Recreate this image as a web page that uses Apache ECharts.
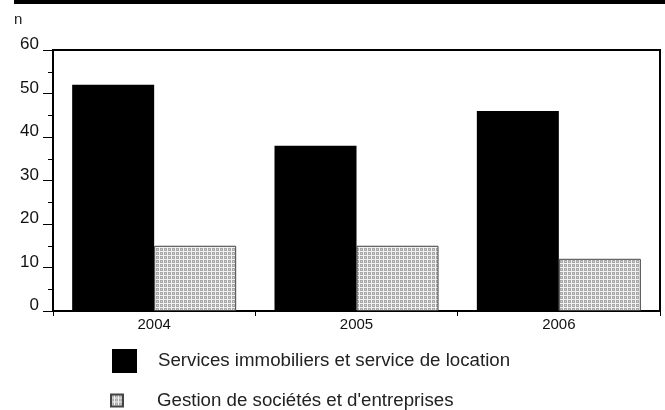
<!DOCTYPE html>
<html><head><meta charset="utf-8">
<script src="https://cdn.jsdelivr.net/npm/echarts@6/dist/echarts.min.js"></script>
<style>html,body{margin:0;padding:0;background:#fff}#c{width:665px;height:410px}</style>
</head><body><div id="c"></div>
<script>
var categories = ['2004', '2005', '2006'];
var seriesNames = ['Services immobiliers et service de location', "Gestion de sociétés et d'entreprises"];
var servicesValues = [52, 38, 46];
var gestionValues = [15, 15, 12];
var yTicks = [0, 10, 20, 30, 40, 50, 60];

var pc = document.createElement('canvas');
pc.width = 4; pc.height = 4;
var g = pc.getContext('2d');
g.fillStyle = '#f2f2f2'; g.fillRect(0, 0, 4, 4);
g.fillStyle = '#a8a8a8'; g.fillRect(0, 0, 3, 3);
g.fillStyle = '#d6d6d6'; g.fillRect(1, 1, 1, 1);
var pattern = { image: pc, repeat: 'repeat' };

var font = 'Liberation Sans, Arial, Helvetica, sans-serif';
var chart = echarts.init(document.getElementById('c'), null, { renderer: 'canvas' });
chart.setOption({
  animation: false,
  backgroundColor: '#fff',
  textStyle: { fontFamily: font },
  graphic: [
    { type: 'rect', shape: { x: 14, y: 0, width: 651, height: 4 }, style: { fill: '#000' } },
    { type: 'text', left: 14, top: 12, style: { text: 'n', font: '15px ' + font, fill: '#222' } }
  ],
  grid: { left: 53, right: 5, top: 50, bottom: 99, show: true, borderColor: '#000', borderWidth: 2, containLabel: false },
  legend: [
    { data: [seriesNames[0]], left: 112, top: 349, padding: 0, orient: 'vertical', icon: 'rect', itemWidth: 25, itemHeight: 24,
      textStyle: { fontSize: 18.7, color: '#222', padding: [0, 0, 0, 16] } },
    { data: [seriesNames[1]], left: 110, top: 391, padding: 0, orient: 'vertical', icon: 'rect', itemWidth: 12, itemHeight: 12,
      textStyle: { fontSize: 18.7, color: '#222', padding: [0, 0, 0, 29] } }
  ],
  xAxis: {
    type: 'category', data: categories, boundaryGap: true,
    axisLine: { lineStyle: { color: '#000', width: 2 } },
    axisTick: { show: true, length: 5, lineStyle: { color: '#000' } },
    axisLabel: { fontSize: 15, color: '#111', margin: 6 }
  },
  yAxis: {
    type: 'value', min: 0, max: 60, interval: 10,
    axisLine: { show: true, lineStyle: { color: '#000', width: 2 } },
    axisTick: { show: true, length: 10, lineStyle: { color: '#000' } },
    minorTick: { show: true, splitNumber: 2, length: 5, lineStyle: { color: '#000' } },
    splitLine: { show: false },
    axisLabel: { fontSize: 17, color: '#111', margin: 14, verticalAlign: 'bottom', padding: [0, 0, -3, 0],
      formatter: function (v) { return yTicks.indexOf(v) >= 0 ? String(v) : ''; } }
  },
  series: [
    { name: seriesNames[0], type: 'bar', data: servicesValues, barWidth: 82, barGap: '0%',
      itemStyle: { color: '#000' } },
    { name: seriesNames[1], type: 'bar', data: gestionValues, barWidth: 82,
      itemStyle: { color: pattern, borderColor: '#444', borderWidth: 1 } }
  ]
});
</script></body></html>
